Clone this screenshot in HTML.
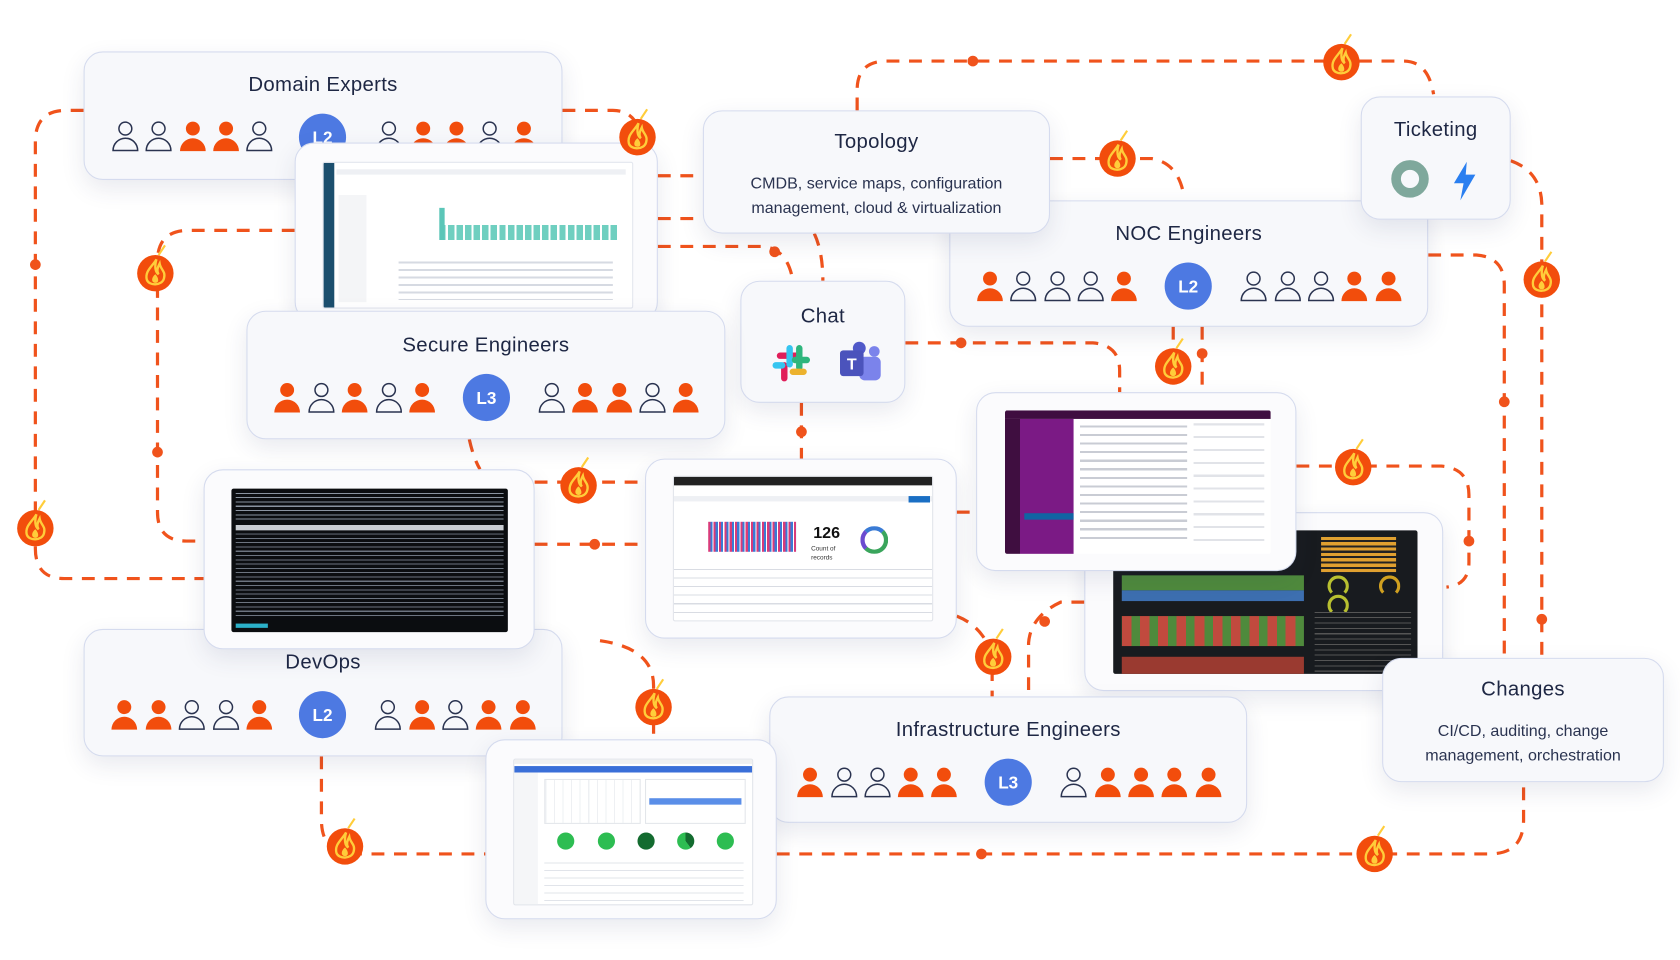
<!DOCTYPE html>
<html><head><meta charset="utf-8"><style>
html,body{margin:0;padding:0;background:#fff;width:1680px;height:960px;overflow:hidden}
#s{position:absolute;left:0;top:0;width:1568px;height:896px;transform:scale(1.07143);transform-origin:0 0;font-family:"Liberation Sans",sans-serif;color:#1e2744}
.card{position:absolute;background:#f7f8fb;border:1.5px solid #d5dbee;border-radius:18px;box-shadow:0 8px 22px rgba(40,50,100,.10);box-sizing:border-box}
.t{position:absolute;left:0;right:0;text-align:center;font-size:19px;letter-spacing:.3px}
.d{position:absolute;left:0;right:0;text-align:center;font-size:15px;line-height:23px;color:#2a3350}
.scr{position:absolute;overflow:hidden;border-radius:2px}
svg{position:absolute;left:0;top:0;overflow:visible}
</style></head><body><div id="s">
<svg width="1568" height="896" style="z-index:0">
<g fill="none" stroke="#f0531c" stroke-width="3" stroke-dasharray="12 9">
<path d="M78,103 H62 Q33,103 33,132 V512 Q33,540 60,540 H190"/>
<path d="M275,215 H176 Q147,215 147,244 V478 Q147,505 174,505 H190"/>
<path d="M525,103 H572 Q592,103 598,125"/>
<path d="M614,164 H656"/><path d="M614,204 H656"/>
<path d="M614,230 H712 Q735,232 740,262"/>
<path d="M760,218 Q768,235 768,262"/>
<path d="M800,103 V84 Q800,57 828,57 H1310 Q1333,57 1338,88"/>
<path d="M980,148 H1075 Q1098,152 1104,178"/>
<path d="M1410,150 Q1438,160 1439,190 V614"/>
<path d="M1333,238 H1378 Q1404,240 1404,266 V614"/>
<path d="M1210,435 H1345 Q1371,437 1371,462 V525 Q1371,546 1350,548"/>
<path d="M845,320 H1020 Q1045,322 1045,346 V366"/>
<path d="M748,376 V428"/>
<path d="M1095,305 V366"/><path d="M1122,305 V366"/>
<path d="M438,410 Q442,428 448,438"/>
<path d="M499,450 H602"/>
<path d="M499,508 H602"/>
<path d="M560,598 Q610,605 610,640 V690"/>
<path d="M300,706 V765 Q300,797 330,797 H453"/>
<path d="M725,797 H1390 Q1422,797 1422,765 V730"/>
<path d="M893,575 Q918,585 926,612 V650"/>
<path d="M1012,562 H990 Q962,575 960,600 V650"/>
<path d="M893,478 H911"/>
</g>
<g fill="#f0531c">
<circle cx="33" cy="247" r="5"/><circle cx="147" cy="422" r="5"/><circle cx="723" cy="235" r="5"/>
<circle cx="908" cy="57" r="5"/><circle cx="897" cy="320" r="5"/><circle cx="748" cy="403" r="5"/>
<circle cx="1122" cy="330" r="5"/><circle cx="1404" cy="375" r="5"/><circle cx="1371" cy="505" r="5"/>
<circle cx="1439" cy="578" r="5"/><circle cx="555" cy="508" r="5"/><circle cx="916" cy="797" r="5"/>
<circle cx="975" cy="580" r="5"/>
</g>
</svg>
<svg width="0" height="0"><defs>
<symbol id="pf" viewBox="-13 -14 26 28" overflow="visible"><circle cx="0" cy="-7" r="6.5" fill="#f24d0c"/><path d="M-12,14 A12,12 0 0 1 12,14 Z" fill="#f24d0c"/></symbol>
<symbol id="po" viewBox="-13 -14 26 28" overflow="visible"><circle cx="0" cy="-7" r="6" fill="none" stroke="#2a3350" stroke-width="1.4"/><path d="M-11.5,13.5 A11.5,11.5 0 0 1 11.5,13.5 Z" fill="none" stroke="#2a3350" stroke-width="1.4"/></symbol>
</defs></svg>

<!-- Domain Experts -->
<div class="card" style="left:78px;top:48px;width:447px;height:120px"><div class="t" style="top:20px">Domain Experts</div>
<svg width="447" height="120"><use href="#po" x="25" y="64" width="26" height="28"/><use href="#po" x="56" y="64" width="26" height="28"/><use href="#pf" x="88" y="64" width="26" height="28"/><use href="#pf" x="119" y="64" width="26" height="28"/><use href="#po" x="150" y="64" width="26" height="28"/>
<circle cx="222" cy="79" r="22" fill="#4d79e2"/><text x="222" y="85" fill="#fff" font-size="16" font-weight="bold" text-anchor="middle" font-family="Liberation Sans">L2</text>
<use href="#po" x="271" y="64" width="26" height="28"/><use href="#pf" x="303" y="64" width="26" height="28"/><use href="#pf" x="334" y="64" width="26" height="28"/><use href="#po" x="365" y="64" width="26" height="28"/><use href="#pf" x="397" y="64" width="26" height="28"/></svg></div>

<!-- Kibana card -->
<div class="card" style="left:275px;top:133px;width:339px;height:167px;background:#fbfbfd">
<div class="scr" style="left:25px;top:17px;width:288px;height:135px;background:#fff;border:1px solid #e3e6ee">
<div style="position:absolute;left:0;top:0;width:10px;height:135px;background:#1c4f6e"></div>
<div style="position:absolute;left:12px;top:6px;width:270px;height:5px;background:#eef0f4"></div>
<div style="position:absolute;left:14px;top:30px;width:26px;height:100px;background:#f4f5f7"></div>
<div style="position:absolute;left:108px;top:58px;width:168px;height:14px;background:repeating-linear-gradient(90deg,#6fcfc0 0 6px,#fff 6px 8px)"></div>
<div style="position:absolute;left:108px;top:42px;width:5px;height:30px;background:#5bc6b8"></div>
<div style="position:absolute;left:70px;top:92px;width:200px;height:36px;background:repeating-linear-gradient(180deg,#d6dae2 0 2px,#fff 2px 7px)"></div>
</div></div>

<!-- NOC -->
<div class="card" style="left:886px;top:187px;width:447px;height:118px"><div class="t" style="top:20px">NOC Engineers</div>
<svg width="447" height="118"><use href="#pf" x="24" y="65" width="26" height="28"/><use href="#po" x="55" y="65" width="26" height="28"/><use href="#po" x="87" y="65" width="26" height="28"/><use href="#po" x="118" y="65" width="26" height="28"/><use href="#pf" x="149" y="65" width="26" height="28"/>
<circle cx="222" cy="79" r="22" fill="#4d79e2"/><text x="222" y="85" fill="#fff" font-size="16" font-weight="bold" text-anchor="middle" font-family="Liberation Sans">L2</text>
<use href="#po" x="270" y="65" width="26" height="28"/><use href="#po" x="302" y="65" width="26" height="28"/><use href="#po" x="333" y="65" width="26" height="28"/><use href="#pf" x="364" y="65" width="26" height="28"/><use href="#pf" x="396" y="65" width="26" height="28"/></svg></div>

<!-- Topology -->
<div class="card" style="left:656px;top:103px;width:324px;height:115px"><div class="t" style="top:18px">Topology</div>
<div class="d" style="top:56px">CMDB, service maps, configuration<br>management, cloud &amp; virtualization</div></div>

<!-- Ticketing -->
<div class="card" style="left:1270px;top:90px;width:140px;height:115px"><div class="t" style="top:20px">Ticketing</div>
<svg width="140" height="115"><circle cx="45" cy="76" r="13" fill="none" stroke="#7fa89c" stroke-width="9"/><path d="M98,60 L86,80 L95,80 L92,96 L106,72 L97,72 Z" fill="#2a7ff0"/></svg></div>

<!-- Chat -->
<div class="card" style="left:691px;top:262px;width:154px;height:114px"><div class="t" style="top:22px">Chat</div>
<svg width="154" height="114"><g stroke-linecap="round" stroke-width="6"><line x1="36" y1="69" x2="52" y2="69" stroke="#e01e5a"/><line x1="40" y1="78" x2="40" y2="90" stroke="#e01e5a"/><line x1="45" y1="62" x2="45" y2="77" stroke="#36c5f0"/><line x1="32" y1="78" x2="38" y2="78" stroke="#36c5f0"/><line x1="54" y1="62" x2="54" y2="80" stroke="#2eb67d"/><line x1="48" y1="84" x2="58" y2="84" stroke="#ecb22e"/><line x1="50" y1="73" x2="61" y2="73" stroke="#2eb67d"/></g>
<circle cx="124" cy="65" r="5" fill="#7b83eb"/><rect x="110" y="70" width="20" height="22" rx="5" fill="#7b83eb"/><circle cx="110" cy="62" r="6" fill="#5059c9"/><rect x="92" y="64" width="22" height="24" rx="3" fill="#4b53bc"/><text x="103" y="82" fill="#fff" font-size="15" font-weight="bold" text-anchor="middle" font-family="Liberation Sans">T</text></svg></div>

<!-- Secure -->
<div class="card" style="left:230px;top:290px;width:447px;height:120px"><div class="t" style="top:21px">Secure Engineers</div>
<svg width="447" height="120"><use href="#pf" x="24" y="66" width="26" height="28"/><use href="#po" x="56" y="66" width="26" height="28"/><use href="#pf" x="87" y="66" width="26" height="28"/><use href="#po" x="119" y="66" width="26" height="28"/><use href="#pf" x="150" y="66" width="26" height="28"/>
<circle cx="223" cy="80" r="22" fill="#4d79e2"/><text x="223" y="86" fill="#fff" font-size="16" font-weight="bold" text-anchor="middle" font-family="Liberation Sans">L3</text>
<use href="#po" x="271" y="66" width="26" height="28"/><use href="#pf" x="302" y="66" width="26" height="28"/><use href="#pf" x="334" y="66" width="26" height="28"/><use href="#po" x="365" y="66" width="26" height="28"/><use href="#pf" x="396" y="66" width="26" height="28"/></svg></div>

<!-- Grafana -->
<div class="card" style="left:1012px;top:478px;width:335px;height:167px;background:#fbfbfd">
<div class="scr" style="left:26px;top:16px;width:284px;height:134px;background:#181b1f">
<div style="position:absolute;left:194px;top:6px;width:70px;height:34px;background:repeating-linear-gradient(180deg,#e0a030 0 3px,#222 3px 5px)"></div>
<div style="position:absolute;left:8px;top:42px;width:170px;height:14px;background:#4f8a3c"></div>
<div style="position:absolute;left:8px;top:56px;width:170px;height:10px;background:#3d6fb0"></div>
<div style="position:absolute;left:200px;top:42px;width:14px;height:14px;border-radius:50%;border:3px solid #b8c030;border-bottom-color:transparent"></div>
<div style="position:absolute;left:248px;top:42px;width:14px;height:14px;border-radius:50%;border:3px solid #d0a020;border-bottom-color:transparent"></div>
<div style="position:absolute;left:200px;top:60px;width:14px;height:14px;border-radius:50%;border:3px solid #b8c030;border-bottom-color:transparent"></div>
<div style="position:absolute;left:8px;top:80px;width:170px;height:28px;background:repeating-linear-gradient(90deg,#c14a3e 0 9px,#4f8a3c 9px 17px)"></div>
<div style="position:absolute;left:188px;top:76px;width:90px;height:56px;background:repeating-linear-gradient(180deg,#555 0 1px,transparent 1px 5px)"></div>
<div style="position:absolute;left:8px;top:118px;width:170px;height:16px;background:#9a3a30"></div>
</div></div>

<!-- Slack screenshot -->
<div class="card" style="left:911px;top:366px;width:299px;height:167px;background:#fbfbfd">
<div class="scr" style="left:26px;top:16px;width:248px;height:134px;background:#fff">
<div style="position:absolute;left:0;top:0;width:248px;height:8px;background:#3f0e40"></div>
<div style="position:absolute;left:0;top:8px;width:14px;height:126px;background:#3f0e40"></div>
<div style="position:absolute;left:14px;top:8px;width:50px;height:126px;background:#7b1a85"></div>
<div style="position:absolute;left:18px;top:96px;width:46px;height:6px;background:#1164a3"></div>
<div style="position:absolute;left:70px;top:14px;width:100px;height:110px;background:repeating-linear-gradient(180deg,#c9ccd4 0 2px,#fff 2px 8px)"></div>
<div style="position:absolute;left:176px;top:12px;width:66px;height:112px;background:repeating-linear-gradient(180deg,#e1e3e8 0 2px,#fff 2px 12px)"></div>
</div></div>

<!-- DevOps -->
<div class="card" style="left:78px;top:587px;width:447px;height:119px"><div class="t" style="top:20px">DevOps</div>
<svg width="447" height="119"><use href="#pf" x="24" y="65" width="26" height="28"/><use href="#pf" x="56" y="65" width="26" height="28"/><use href="#po" x="87" y="65" width="26" height="28"/><use href="#po" x="119" y="65" width="26" height="28"/><use href="#pf" x="150" y="65" width="26" height="28"/>
<circle cx="222" cy="79" r="22" fill="#4d79e2"/><text x="222" y="85" fill="#fff" font-size="16" font-weight="bold" text-anchor="middle" font-family="Liberation Sans">L2</text>
<use href="#po" x="270" y="65" width="26" height="28"/><use href="#pf" x="302" y="65" width="26" height="28"/><use href="#po" x="333" y="65" width="26" height="28"/><use href="#pf" x="364" y="65" width="26" height="28"/><use href="#pf" x="396" y="65" width="26" height="28"/></svg></div>

<!-- Terminal -->
<div class="card" style="left:190px;top:438px;width:309px;height:168px;background:#fbfbfd">
<div class="scr" style="left:25px;top:17px;width:258px;height:134px;background:#0b0d10">
<div style="position:absolute;left:4px;top:4px;width:250px;height:26px;background:repeating-linear-gradient(180deg,#8a93a0 0 1px,transparent 1px 4px)"></div>
<div style="position:absolute;left:4px;top:34px;width:250px;height:5px;background:#c8ccd2"></div>
<div style="position:absolute;left:4px;top:42px;width:250px;height:80px;background:repeating-linear-gradient(180deg,#6c7480 0 1px,transparent 1px 4px)"></div>
<div style="position:absolute;left:4px;top:126px;width:30px;height:4px;background:#2bb0c8"></div>
</div></div>

<!-- Splunk -->
<div class="card" style="left:602px;top:428px;width:291px;height:168px;background:#fbfbfd">
<div class="scr" style="left:25px;top:15px;width:241px;height:134px;background:#fff;border:1px solid #e1e4ea">
<div style="position:absolute;left:0;top:0;width:241px;height:8px;background:#222"></div>
<div style="position:absolute;left:0;top:18px;width:241px;height:5px;background:#eef0f4"></div>
<div style="position:absolute;left:219px;top:18px;width:20px;height:6px;background:#1a6fc4"></div>
<div style="position:absolute;left:32px;top:42px;width:82px;height:28px;background:repeating-linear-gradient(90deg,#d93b7a 0 2px,#3a7bd5 2px 4px,#fff 4px 5px)"></div>
<div style="position:absolute;left:130px;top:44px;font-size:15px;font-weight:bold;color:#111">126</div>
<div style="position:absolute;left:128px;top:64px;font-size:6px;color:#333;line-height:8px">Count of<br>records</div>
<div style="position:absolute;left:174px;top:46px;width:18px;height:18px;border-radius:50%;border:4px solid #3aa55c;border-left-color:#6b4bd0;border-top-color:#3a7bd5"></div>
<div style="position:absolute;left:0;top:86px;width:241px;height:46px;background:repeating-linear-gradient(180deg,#d9dce3 0 1px,#fff 1px 8px)"></div>
</div></div>

<!-- Infrastructure -->
<div class="card" style="left:718px;top:650px;width:446px;height:118px"><div class="t" style="top:20px">Infrastructure Engineers</div>
<svg width="446" height="118"><use href="#pf" x="24" y="65" width="26" height="28"/><use href="#po" x="56" y="65" width="26" height="28"/><use href="#po" x="87" y="65" width="26" height="28"/><use href="#pf" x="118" y="65" width="26" height="28"/><use href="#pf" x="149" y="65" width="26" height="28"/>
<circle cx="222" cy="79" r="22" fill="#4d79e2"/><text x="222" y="85" fill="#fff" font-size="16" font-weight="bold" text-anchor="middle" font-family="Liberation Sans">L3</text>
<use href="#po" x="270" y="65" width="26" height="28"/><use href="#pf" x="302" y="65" width="26" height="28"/><use href="#pf" x="333" y="65" width="26" height="28"/><use href="#pf" x="364" y="65" width="26" height="28"/><use href="#pf" x="396" y="65" width="26" height="28"/></svg></div>

<!-- Changes -->
<div class="card" style="left:1290px;top:614px;width:263px;height:116px"><div class="t" style="top:18px">Changes</div>
<div class="d" style="top:56px">CI/CD, auditing, change<br>management, orchestration</div></div>

<!-- bottom dashboard -->
<div class="card" style="left:453px;top:690px;width:272px;height:168px;background:#fbfbfd">
<div class="scr" style="left:25px;top:17px;width:222px;height:135px;background:#fff;border:1px solid #e1e4ea">
<div style="position:absolute;left:0;top:0;width:222px;height:4px;background:#f0f0f0"></div>
<div style="position:absolute;left:0;top:6px;width:222px;height:6px;background:#3a6fd8"></div>
<div style="position:absolute;left:0;top:12px;width:22px;height:123px;background:#f5f6f8"></div>
<div style="position:absolute;left:28px;top:18px;width:88px;height:40px;border:1px solid #e3e6ea;background:repeating-linear-gradient(90deg,#eef0f3 0 1px,#fff 1px 8px)"></div>
<div style="position:absolute;left:122px;top:18px;width:92px;height:40px;border:1px solid #e3e6ea"></div>
<div style="position:absolute;left:126px;top:36px;width:86px;height:6px;background:#5a8ee8"></div>
<div style="position:absolute;left:40px;top:68px;width:16px;height:16px;border-radius:50%;background:#2dbd52"></div>
<div style="position:absolute;left:78px;top:68px;width:16px;height:16px;border-radius:50%;background:#2dbd52"></div>
<div style="position:absolute;left:115px;top:68px;width:16px;height:16px;border-radius:50%;background:#136b2f"></div>
<div style="position:absolute;left:152px;top:68px;width:16px;height:16px;border-radius:50%;background:conic-gradient(#136b2f 0 40%,#2dbd52 40%)"></div>
<div style="position:absolute;left:189px;top:68px;width:16px;height:16px;border-radius:50%;background:#2dbd52"></div>
<div style="position:absolute;left:28px;top:96px;width:186px;height:36px;background:repeating-linear-gradient(180deg,#e1e4ea 0 1px,#fff 1px 7px)"></div>
</div></div>

<!-- fires -->
<svg width="1568" height="896" style="z-index:5">
<defs><g id="fire"><circle r="17" fill="#f24d0c"/><path d="M1,-13 C-3,-6 -10,-2 -8,6 C-6,12 6,12 8,5 C10,-2 5,-3 4,-9 C2,-5 1,-2 3,1 C0,-1 -1,-6 1,-13Z" fill="none" stroke="#ffcd3a" stroke-width="2.2"/><path d="M0,1 C-4,4 -4,9 0,9 C4,9 3,4 0,1Z" fill="#ffcd3a"/><path d="M3,-17 L9,-26" stroke="#ffcd3a" stroke-width="2"/></g></defs>
<use href="#fire" x="595" y="128"/><use href="#fire" x="145" y="255"/><use href="#fire" x="1252" y="58"/>
<use href="#fire" x="1043" y="148"/><use href="#fire" x="1439" y="261"/><use href="#fire" x="1095" y="342"/>
<use href="#fire" x="33" y="493"/><use href="#fire" x="540" y="453"/><use href="#fire" x="1263" y="436"/>
<use href="#fire" x="610" y="660"/><use href="#fire" x="927" y="613"/><use href="#fire" x="322" y="790"/>
<use href="#fire" x="1283" y="797"/>
</svg>
</div></body></html>
